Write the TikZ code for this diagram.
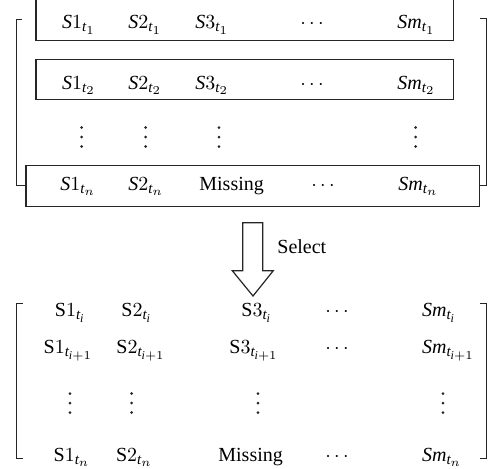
\documentclass[tikz,border=0pt]{standalone}
\usepackage{fontspec}
\setmainfont{Liberation Serif}
\DeclareMathSizes{10}{10}{7.5}{6}
\newcommand{\ent}[2]{$#1_{\mathit{t}_{#2}}$}
\tikzset{
  lab/.style={inner sep=0pt, anchor=base west, font=\fontsize{10}{12}\selectfont},
  labc/.style={inner sep=0pt, anchor=base, font=\fontsize{10}{12}\selectfont},
  frame/.style={draw=black!85, line width=0.6pt},
  vdot/.style={fill=black!85},
}
\newcommand{\vdotsat}[2]{\fill[vdot] (#1,#2-9.5) circle (1.5) (#1,#2) circle (1.5) (#1,#2+9.5) circle (1.5);}
\begin{document}
\begin{tikzpicture}[x=0.5pt,y=-0.5pt]
\useasboundingbox (0,0) rectangle (489,468);
% ---- top boxes
\draw[frame] (36,-2) rectangle (453.3,40.7);
\draw[frame] (36,59.3) rectangle (453.3,99.3);
\draw[frame] (26,165.3) rectangle (479.7,206.7);
% brackets top
\draw[frame] (22,19.3) -- (16.3,19.3) -- (16.3,185.7) -- (26,185.7);
\draw[frame] (479.7,18.3) -- (486.7,18.3) -- (486.7,185.3) -- (479.7,185.3);
% row 1
\node[lab] (a11) at (61.7,28.5) {\ent{\mathit{S}1}{1}};
\node[lab] (a12) at (128,28.5) {\ent{\mathit{S}2}{1}};
\node[lab] (a13) at (195,28.5) {\ent{\mathit{S}3}{1}};
\node[labc] (a14) at (312,28.5) {$\cdots$};
\node[lab] (a15) at (397,28.5) {\ent{\mathit{Sm}}{1}};
% row 2
\node[lab] (a21) at (61.7,89) {\ent{\mathit{S}1}{2}};
\node[lab] (a22) at (128,89) {\ent{\mathit{S}2}{2}};
\node[lab] (a23) at (195,89) {\ent{\mathit{S}3}{2}};
\node[labc] (a24) at (312,89) {$\cdots$};
\node[lab] (a25) at (397,89) {\ent{\mathit{Sm}}{2}};
% vertical dots
\vdotsat{81.7}{137}
\vdotsat{145.7}{137}
\vdotsat{219}{137}
\vdotsat{415.7}{137}
% row n
\node[lab] (an1) at (60,190) {\ent{\mathit{S}1}{n}};
\node[lab] (an2) at (128,190) {\ent{\mathit{S}2}{n}};
\node[lab] (an3) at (199,190) {Missing};
\node[labc] (an4) at (323,190) {$\cdots$};
\node[lab] (an5) at (398,190) {\ent{\mathit{Sm}}{n}};
% ---- arrow
\draw[frame, fill=white] (242.7,222.7) -- (262.7,222.7) -- (262.7,270.7) -- (273.3,270.7)
  -- (253,296) -- (232.3,270.7) -- (242.7,270.7) -- cycle;
\node[lab] (sel) at (277,253) {Select};
% ---- bottom matrix
\draw[frame] (22.7,303.3) -- (16.7,303.3) -- (16.7,458.3) -- (22.7,458.3);
\draw[frame] (480.5,303.3) -- (486.5,303.3) -- (486.5,458.3) -- (480.5,458.3);
% row i
\node[lab] (b11) at (54.5,316) {\ent{\mathrm{S}1}{\mathit{i}}};
\node[lab] (b12) at (121,316) {\ent{\mathrm{S}2}{\mathit{i}}};
\node[lab] (b13) at (241,316) {\ent{\mathrm{S}3}{\mathit{i}}};
\node[labc] (b14) at (337,316) {$\cdots$};
\node[lab] (b15) at (421.7,316) {\ent{\mathit{Sm}}{\mathit{i}}};
% row i+1
\node[lab] (b21) at (43.3,353.5) {\ent{\mathrm{S}1}{\mathit{i}+1}};
\node[lab] (b22) at (116,353.5) {\ent{\mathrm{S}2}{\mathit{i}+1}};
\node[lab] (b23) at (229,353.5) {\ent{\mathrm{S}3}{\mathit{i}+1}};
\node[labc] (b24) at (337,353.5) {$\cdots$};
\node[lab] (b25) at (421.7,353.5) {\ent{\mathit{Sm}}{\mathit{i}+1}};
% vertical dots
\vdotsat{70}{403}
\vdotsat{131.7}{403}
\vdotsat{258}{403}
\vdotsat{443}{403}
% row n
\node[lab] (bn1) at (53.3,461) {\ent{\mathrm{S}1}{n}};
\node[lab] (bn2) at (115.7,461) {\ent{\mathrm{S}2}{n}};
\node[lab] (bn3) at (218,461) {Missing};
\node[labc] (bn4) at (337,461) {$\cdots$};
\node[lab] (bn5) at (421.7,461) {\ent{\mathit{Sm}}{n}};
\end{tikzpicture}
\end{document}
